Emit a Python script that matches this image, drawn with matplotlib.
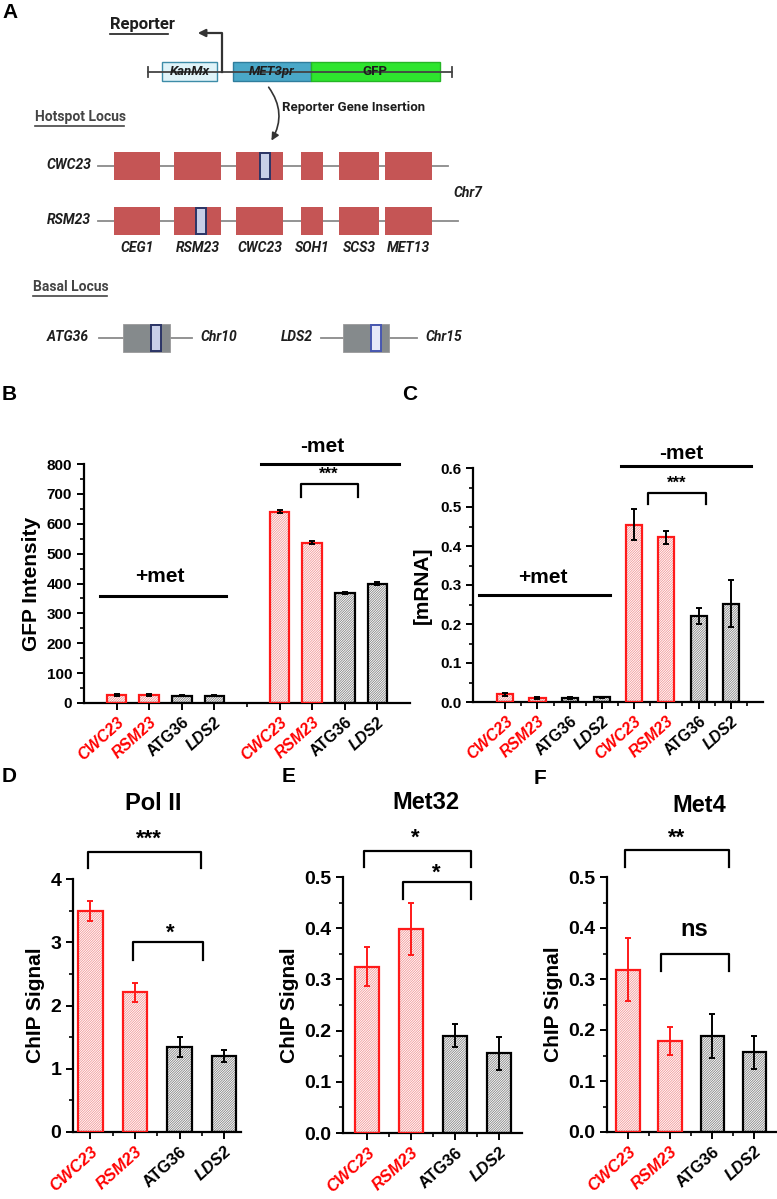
import matplotlib
matplotlib.use("Agg")
import matplotlib.pyplot as plt
from matplotlib.patches import Rectangle, FancyArrowPatch
import numpy as np

# ---------------- data ----------------
genes = ["CWC23", "RSM23", "ATG36", "LDS2"]
gene_colors = ["red", "red", "black", "black"]
gene_styles = ["italic", "italic", "normal", "italic"]

gfp_plus = [28, 28, 25, 25]
gfp_plus_err = [3, 3, 2, 2]
gfp_minus = [640, 537, 368, 400]
gfp_minus_err = [5, 6, 4, 4]

mrna_plus = [0.020, 0.010, 0.010, 0.012]
mrna_plus_err = [0.004, 0.002, 0.003, 0.002]
mrna_minus = [0.455, 0.422, 0.220, 0.252]
mrna_minus_err = [0.040, 0.016, 0.020, 0.060]

pol2 = [3.49, 2.21, 1.34, 1.20]
pol2_err = [0.16, 0.15, 0.16, 0.10]
met32 = [0.325, 0.398, 0.190, 0.156]
met32_err = [0.038, 0.051, 0.022, 0.032]
met4 = [0.318, 0.178, 0.188, 0.156]
met4_err = [0.062, 0.027, 0.043, 0.032]

hotspot_genes = ["CEG1", "RSM23", "CWC23", "SOH1", "SCS3", "MET13"]

# ---------------- figure ----------------
W, H = 777, 1199
fig = plt.figure(figsize=(W / 100, H / 100), dpi=100)
plt.rcParams['font.family'] = ['Liberation Sans', 'DejaVu Sans']
plt.rcParams['hatch.linewidth'] = 0.55

RED = "#ff1a1a"
RED_H = "#f29090"
GREY_H = "#7c7c7c"

ov = fig.add_axes([0, 0, 1, 1])
ov.set_xlim(0, W)
ov.set_ylim(H, 0)
ov.axis("off")


def axpx(l, t, r, b):
    ax = fig.add_axes([l / W, 1 - b / H, (r - l) / W, (b - t) / H])
    ax.set_facecolor("none")
    return ax


def style_axis(ax, fs):
    for s in ["top", "right"]:
        ax.spines[s].set_visible(False)
    for s in ["left", "bottom"]:
        ax.spines[s].set_linewidth(1.6)
    ax.tick_params(axis="both", which="major", direction="out", width=1.4, length=5,
                   labelsize=fs)
    ax.tick_params(axis="both", which="minor", direction="out", width=1.2, length=3)
    for lab in ax.get_yticklabels():
        lab.set_fontweight("bold")


def draw_bars(ax, xs, vals, errs, width, red_err=False, colors=gene_colors):
    for x, v, e, c in zip(xs, vals, errs, colors):
        hc = RED_H if c == "red" else GREY_H
        ec = RED if c == "red" else "black"
        ax.bar(x, v, width=width, color="white", edgecolor=hc, hatch="/" * 14,
               linewidth=0, zorder=2)
        ax.bar(x, v, width=width, fill=False, edgecolor=ec, linewidth=1.6, zorder=3)
        errc = (RED if c == "red" else "black") if red_err else "black"
        ax.errorbar(x, v, yerr=e, fmt="none", ecolor=errc, elinewidth=1.4,
                    capsize=2.5, capthick=1.4, zorder=4)


def set_xlabels(ax, xs, fs):
    ax.set_xticks(xs)
    ax.set_xticklabels([genes[i % 4] for i in range(len(xs))], rotation=42,
                       ha="right", rotation_mode="anchor", fontsize=fs)
    for i, lab in enumerate(ax.get_xticklabels()):
        lab.set_color(gene_colors[i % 4])
        lab.set_fontstyle(gene_styles[i % 4])
        lab.set_fontweight("bold")


def bracket(ax, x1, x2, ytop, ylow, txt, ty, tx, fs):
    ax.plot([x1, x1, x2, x2], [ylow, ytop, ytop, ylow], color="black", lw=1.6,
            clip_on=False, zorder=5)
    ax.text(tx, ty, txt, ha="center", va="center", fontsize=fs, fontweight="bold",
            clip_on=False)

# ---------------- panel A (schematic) ----------------
TXT = "#1e1e1e"
AF = ['Roboto', 'DejaVu Sans']
ov.text(10, 13, "A", fontsize=15, fontweight="bold", ha="center", va="center")

ov.text(110, 25, "Reporter", fontsize=12, fontweight="bold", ha="left", va="center",
        family=AF, color=TXT)
ov.plot([110, 168], [34, 34], color=TXT, lw=1.2)

# reporter construct
ov.plot([148, 452], [72, 72], color="#444444", lw=1.3)
ov.plot([148, 148], [67, 77], color="#444444", lw=1.3)
ov.plot([452, 452], [67, 77], color="#444444", lw=1.3)
ov.add_patch(Rectangle((162, 62), 55, 19, facecolor="#dff3f8", edgecolor="#3d8ca8", lw=1.0))
ov.add_patch(Rectangle((233, 62), 78, 19, facecolor="#4aa8c8", edgecolor="#2f7d9c", lw=1.0))
ov.add_patch(Rectangle((311, 62), 129, 19, facecolor="#2ee52e", edgecolor="#25b525", lw=1.0))
ov.text(189.5, 71.5, "KanMx", fontsize=9.5, fontweight="bold", fontstyle="italic",
        ha="center", va="center", family=AF, color=TXT)
ov.text(272, 71.5, "MET3pr", fontsize=9.5, fontweight="bold", fontstyle="italic",
        ha="center", va="center", family=AF, color=TXT)
ov.text(375, 71.5, "GFP", fontsize=9.5, fontweight="bold", ha="center", va="center",
        family=AF, color=TXT)
ov.plot([222, 222, 205], [72, 33, 33], color="#333333", lw=1.6)
ov.annotate("", xy=(195, 33), xytext=(207, 33),
            arrowprops=dict(arrowstyle="-|>", color="#333333", lw=1.6, mutation_scale=11))

# insertion arrow
arr = FancyArrowPatch((267, 85), (270, 143), connectionstyle="arc3,rad=-0.35",
                      arrowstyle="-|>", mutation_scale=11, color="#333333", lw=1.2)
ov.add_patch(arr)
ov.text(282, 108, "Reporter Gene Insertion", fontsize=9.5, fontweight="bold",
        ha="left", va="center", family=AF, color=TXT)

ov.text(35, 117, "Hotspot Locus", fontsize=10, fontweight="bold", ha="left", va="center",
        family=AF, color="#444444")
ov.plot([35, 124], [125.5, 125.5], color="#444444", lw=1.2)

box_x = [(114, 160), (174, 221), (236, 283), (301, 323), (339, 379), (385, 432)]
BOXRED = "#c55555"
for yc, xend, ins, lab in [(166, 448, (260, 270), "CWC23"), (221, 458, (196, 206), "RSM23")]:
    ov.plot([98, xend], [yc, yc], color="#8a8a8a", lw=1.3, zorder=1)
    for (a, b) in box_x:
        ov.add_patch(Rectangle((a, yc - 14), b - a, 28, facecolor=BOXRED, edgecolor="none",
                               zorder=2))
    ov.add_patch(Rectangle((ins[0], yc - 13), ins[1] - ins[0], 26, facecolor="#c8cfe8",
                           edgecolor="#2b3566", lw=1.4, zorder=3))
    ov.text(91, yc - 1, lab, fontsize=10, fontweight="bold", fontstyle="italic",
            ha="right", va="center", family=AF, color=TXT)
ov.text(453, 193, "Chr7", fontsize=10, fontweight="bold", fontstyle="italic",
        ha="left", va="center", family=AF, color=TXT)
for (a, b), g in zip(box_x, hotspot_genes):
    ov.text((a + b) / 2, 248, g, fontsize=10, fontweight="bold", fontstyle="italic",
            ha="center", va="center", family=AF, color=TXT)

ov.text(33, 287, "Basal Locus", fontsize=10, fontweight="bold", ha="left", va="center",
        family=AF, color="#444444")
ov.plot([33, 107], [296, 296], color="#444444", lw=1.2)

for lab, lx, l1, l2, bx, ins, chrl, chx, insfc, insec in [
        ("ATG36", 89, 99, 192, (123, 170), (151, 161), "Chr10", 200, "#c8cfe8", "#2b3566"),
        ("LDS2", 313, 321, 417, (343, 389), (371, 381), "Chr15", 425, "#e6e8f8", "#4757b0")]:
    yc = 338
    ov.plot([l1, l2], [yc, yc], color="#8a8a8a", lw=1.3, zorder=1)
    ov.add_patch(Rectangle((bx[0], yc - 14), bx[1] - bx[0], 28, facecolor="#858a8c",
                           edgecolor="#9a9a9a", lw=0.6, zorder=2))
    ov.add_patch(Rectangle((ins[0], yc - 13), ins[1] - ins[0], 26, facecolor=insfc,
                           edgecolor=insec, lw=1.4, zorder=3))
    ov.text(lx, yc - 1, lab, fontsize=10, fontweight="bold", fontstyle="italic",
            ha="right", va="center", family=AF, color=TXT)
    ov.text(chx, yc - 1, chrl, fontsize=10, fontweight="bold", fontstyle="italic",
            ha="left", va="center", family=AF, color=TXT)

# panel letters
for t, x, y in [("B", 9, 395), ("C", 410, 395), ("D", 9, 776), ("E", 289, 777),
                ("F", 540, 778)]:
    ov.text(x, y, t, fontsize=15, fontweight="bold", ha="center", va="center")

# ---------------- panel B ----------------
axB = axpx(84, 464, 410, 703)
xsB = [1, 2, 3, 4, 6, 7, 8, 9]
draw_bars(axB, xsB[:4], gfp_plus, gfp_plus_err, 0.6)
draw_bars(axB, xsB[4:], gfp_minus, gfp_minus_err, 0.6)
axB.set_xlim(0, 10)
axB.set_ylim(0, 800)
axB.set_yticks(np.arange(0, 801, 100))
axB.set_yticks(np.arange(50, 800, 100), minor=True)
axB.set_xticks([5], minor=True)
style_axis(axB, 11)
set_xlabels(axB, xsB, 11.5)
axB.set_ylabel("GFP Intensity", fontsize=15, fontweight="bold", labelpad=4)
axB.plot([0.49, 4.37], [358, 358], color="black", lw=2.2, clip_on=False)
axB.text(2.34, 422, "+met", fontsize=15, fontweight="bold", ha="center", va="center")
axB.plot([5.42, 9.66], [800, 800], color="black", lw=2.2, clip_on=False)
axB.text(7.32, 860, "-met", fontsize=15, fontweight="bold", ha="center", va="center",
         clip_on=False)
bracket(axB, 6.65, 8.4, 733, 690, "***", 766, 7.52, 12)

# ---------------- panel C ----------------
axC = axpx(473, 468, 763, 702)
xsC = [1, 2, 3, 4, 5, 6, 7, 8]
draw_bars(axC, xsC[:4], mrna_plus, mrna_plus_err, 0.5)
draw_bars(axC, xsC[4:], mrna_minus, mrna_minus_err, 0.5)
axC.set_xlim(0, 9)
axC.set_ylim(0, 0.6)
axC.set_yticks(np.arange(0, 0.61, 0.1))
axC.set_yticklabels([f"{v:.1f}" for v in np.arange(0, 0.61, 0.1)])
axC.set_yticks(np.arange(0.05, 0.6, 0.1), minor=True)
axC.set_xticks(np.arange(1.5, 8.6, 1), minor=True)
style_axis(axC, 11)
set_xlabels(axC, xsC, 11.5)
axC.set_ylabel("[mRNA]", fontsize=15, fontweight="bold", labelpad=6)
axC.plot([0.19, 4.24], [0.274, 0.274], color="black", lw=2.2, clip_on=False)
axC.text(2.17, 0.318, "+met", fontsize=15, fontweight="bold", ha="center", va="center")
axC.plot([4.58, 8.64], [0.605, 0.605], color="black", lw=2.2, clip_on=False)
axC.text(6.47, 0.638, "-met", fontsize=15, fontweight="bold", ha="center", va="center",
         clip_on=False)
bracket(axC, 5.42, 7.24, 0.536, 0.508, "***", 0.56, 6.33, 12)

# ---------------- panels D, E, F ----------------
xs4 = [1, 2, 3, 4]


def chip_panel(ax, vals, errs, ymax, major, minor, xlim, fmt):
    draw_bars(ax, xs4, vals, errs, 0.55, red_err=True)
    ax.set_xlim(*xlim)
    ax.set_ylim(0, ymax)
    ticks = np.arange(0, ymax + 1e-9, major)
    ax.set_yticks(ticks)
    ax.set_yticklabels([fmt.format(v) for v in ticks])
    ax.set_yticks(np.arange(minor, ymax, major), minor=True)
    ax.set_xticks([1.5, 2.5, 3.5], minor=True)
    style_axis(ax, 14)
    set_xlabels(ax, xs4, 12)
    ax.set_ylabel("ChIP Signal", fontsize=15, fontweight="bold", labelpad=4)


axD = axpx(73, 879, 241, 1132)
chip_panel(axD, pol2, pol2_err, 4, 1, 0.5, (0.607, 4.38), "{:.0f}")
axD.text(2.42, 5.2, "Pol II", fontsize=17, fontweight="bold", ha="center", va="center")
bracket(axD, 0.94, 3.48, 4.42, 4.17, "***", 4.63, 2.31, 16)
bracket(axD, 1.95, 3.53, 3.01, 2.72, "*", 3.15, 2.79, 16)

axE = axpx(343, 877, 522, 1133)
chip_panel(axE, met32, met32_err, 0.5, 0.1, 0.05, (0.45, 4.52), "{:.1f}")
axE.text(2.33, 0.645, "Met32", fontsize=17, fontweight="bold", ha="center", va="center")
bracket(axE, 0.93, 3.36, 0.551, 0.52, "*", 0.575, 2.10, 16)
bracket(axE, 1.81, 3.36, 0.491, 0.457, "*", 0.507, 2.56, 16)

axF = axpx(607, 877, 776, 1132)
chip_panel(axF, met4, met4_err, 0.5, 0.1, 0.05, (0.5, 4.52), "{:.1f}")
axF.text(2.7, 0.64, "Met4", fontsize=17, fontweight="bold", ha="center", va="center")
bracket(axF, 0.93, 3.41, 0.552, 0.52, "**", 0.577, 2.16, 16)
bracket(axF, 1.79, 3.41, 0.35, 0.315, "ns", 0.397, 2.58, 17)

fig.savefig("out.png", dpi=100)
